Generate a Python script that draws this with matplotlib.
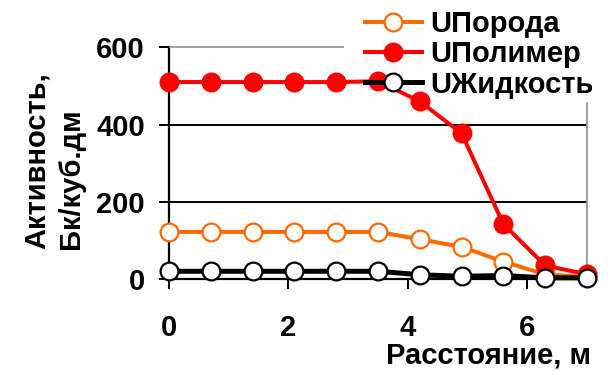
import numpy as np
import matplotlib.pyplot as plt
from matplotlib.patches import Rectangle

plt.rcParams['font.family'] = ['Liberation Sans', 'DejaVu Sans']
plt.rcParams['font.weight'] = 'bold'

# данные: расстояние (м) и активность (Бк/куб.дм)
distance = [0.0, 0.7, 1.4, 2.1, 2.8, 3.5, 4.2, 4.9, 5.6, 6.3, 7.0]
u_rock = [122, 122, 122, 122, 122, 122, 103, 83, 45, 12, 5]
u_polymer = [510, 510, 510, 510, 510, 512, 460, 377, 142, 35, 12]
u_liquid = [20, 20, 20, 20, 20, 20, 11, 7, 9, 3, 3]

fig = plt.figure(figsize=(6.08, 3.71), dpi=100)
ax = fig.add_axes([169 / 608, 1 - 279 / 371, 418 / 608, 231.7 / 371])

fs = 21
ms = 12.8
ax.plot(distance, u_rock, color='#ff6a00', lw=2.9, marker='o', ms=ms,
        mfc='white', mec='#ff6a00', mew=1.6, label='UПорода', zorder=3, clip_on=False)
ax.plot(distance, u_polymer, color='#ff0000', lw=2.9, marker='o', ms=ms,
        mfc='#ff0000', mec='#ff0000', mew=1.6, label='UПолимер', zorder=4, clip_on=False)
ax.plot(distance, u_liquid, color='black', lw=3.6, marker='o', ms=ms,
        mfc='white', mec='black', mew=1.6, label='UЖидкость', zorder=5, clip_on=False)

ax.set_xlim(0, 7)
ax.set_ylim(0, 600)
ax.set_xticks([0, 2, 4, 6])
ax.set_yticks([0, 200, 400, 600])
ax.tick_params(axis='both', labelsize=fs, length=7.2, width=1.4,
               direction='out', color='black')
ax.tick_params(axis='x', pad=18)
ax.tick_params(axis='y', pad=10)

for y in [200, 400]:
    ax.axhline(y, color='black', lw=1.4, zorder=1)

for side in ['left', 'bottom']:
    ax.spines[side].set_color('black')
    ax.spines[side].set_linewidth(1.6)
for side in ['top', 'right']:
    ax.spines[side].set_color('#909090')
    ax.spines[side].set_linewidth(1.2)
for sp in ax.spines.values():
    sp.set_zorder(1.5)

# белая подложка легенды перекрывает рамку справа сверху
ax.add_patch(Rectangle((344 / 608, 1 - 102 / 371), 1, 1, transform=fig.transFigure,
                       facecolor='white', edgecolor='none', zorder=2, clip_on=False))

leg = ax.legend(loc='upper left', bbox_to_anchor=(365 / 608, 1 - 10 / 371),
                bbox_transform=fig.transFigure, frameon=False, fontsize=fs,
                handlelength=1.95, handletextpad=0.28, labelspacing=0.08,
                borderpad=0, borderaxespad=0)
leg.set_zorder(6)

fig.text(591 / 608, 1 - 356 / 371, 'Расстояние, м', ha='right', va='center',
         fontsize=fs, fontweight='bold')
fig.text(54 / 608, 1 - 249 / 371, 'Активность,\nБк/куб.дм', rotation=90,
         ha='center', va='bottom', multialignment='left', fontsize=fs,
         fontweight='bold', linespacing=1.3)

fig.savefig('out.png', dpi=100)
